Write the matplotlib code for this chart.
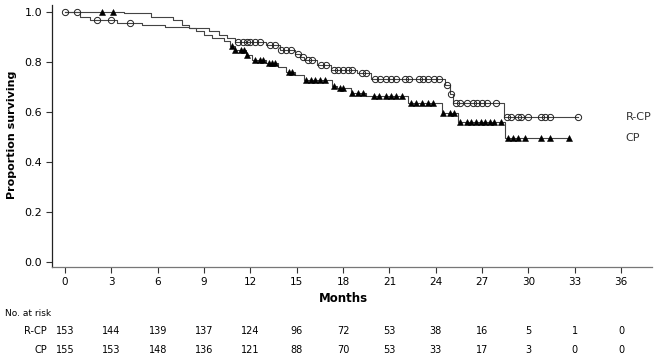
import numpy as np
import matplotlib
matplotlib.use("Agg")
import matplotlib.pyplot as plt
import matplotlib.transforms as mtransforms

# ---------------- data ----------------
rcp_event_t = [1.0, 1.6, 3.4, 5.0, 6.5, 8.0, 9.3, 10.0, 10.5, 11.0, 13.0, 13.9, 14.9, 15.2,
               15.5, 16.3, 17.2, 18.9, 19.8, 24.6, 24.9, 25.1, 28.4]
rcp_event_s = [0.980, 0.967, 0.954, 0.947, 0.940, 0.934, 0.921, 0.908, 0.895, 0.877, 0.866,
               0.846, 0.830, 0.818, 0.806, 0.786, 0.766, 0.754, 0.732, 0.706, 0.672, 0.635, 0.580]
rcp_censor_t = [0.0, 0.8, 2.1, 3.0, 4.2, 11.2, 11.5, 11.8, 12.0, 12.3, 12.6, 13.3, 13.6, 14.0,
                14.3, 14.6, 15.1, 15.4, 15.7, 16.0, 16.6, 16.9, 17.4, 17.7, 18.0, 18.3, 18.6,
                19.2, 19.5, 20.1, 20.4, 20.8, 21.1, 21.4, 22.0, 22.3, 22.9, 23.2, 23.5, 23.9,
                24.2, 24.7, 25.0, 25.3, 25.6, 26.0, 26.4, 26.7, 27.0, 27.3, 27.9, 28.6, 28.9,
                29.3, 29.5, 30.0, 30.8, 31.1, 31.4, 33.2]

cp_event_t = [3.8, 5.6, 7.0, 7.6, 8.0, 8.5, 9.0, 9.5, 10.3, 10.7, 11.0, 11.7, 12.1, 13.0, 13.8,
              14.3, 14.9, 15.5, 17.3, 17.6, 18.5, 19.5, 22.2, 24.4, 25.45, 28.5]
cp_event_s = [0.993, 0.980, 0.967, 0.947, 0.934, 0.921, 0.908, 0.895, 0.882, 0.862, 0.845,
              0.825, 0.806, 0.795, 0.780, 0.760, 0.748, 0.726, 0.705, 0.695, 0.675, 0.662,
              0.637, 0.595, 0.560, 0.496]
cp_censor_t = [2.4, 3.1, 10.8, 11.0, 11.4, 11.6, 11.8, 12.3, 12.6, 12.8, 13.2, 13.4, 13.6,
               14.5, 14.7, 15.6, 15.9, 16.2, 16.5, 16.8, 17.4, 17.8, 18.0, 18.6, 19.0, 19.3,
               20.0, 20.3, 20.8, 21.1, 21.4, 21.8, 22.4, 22.7, 23.1, 23.5, 23.8, 24.5, 24.9,
               25.2, 25.6, 26.0, 26.3, 26.6, 26.9, 27.2, 27.5, 27.8, 28.2, 28.7, 29.0, 29.3,
               29.8, 30.8, 31.4, 32.6]

x_ticks = [0, 3, 6, 9, 12, 15, 18, 21, 24, 27, 30, 33, 36]
y_ticks = [0.0, 0.2, 0.4, 0.6, 0.8, 1.0]
risk_rcp = [153, 144, 139, 137, 124, 96, 72, 53, 38, 16, 5, 1, 0]
risk_cp = [155, 153, 148, 136, 121, 88, 70, 53, 33, 17, 3, 0, 0]
group_names = ["R-CP", "CP"]


def km_curve(ev_t, ev_s, end_t):
    t = np.concatenate([[0.0], ev_t, [end_t]])
    s = np.concatenate([[1.0], ev_s, [ev_s[-1]]])
    return t, s


def surv_at(ev_t, ev_s, times):
    t = np.concatenate([[0.0], ev_t])
    s = np.concatenate([[1.0], ev_s])
    idx = np.searchsorted(t, np.asarray(times), side="right") - 1
    return s[idx]


# ---------------- figure ----------------
fig = plt.figure(figsize=(6.58, 3.58), dpi=100)
ax = fig.add_axes([52 / 658, 1 - 267 / 358, 600 / 658, 262 / 358])

line_col = "#444444"
t1, s1 = km_curve(rcp_event_t, rcp_event_s, max(rcp_censor_t))
t2, s2 = km_curve(cp_event_t, cp_event_s, max(cp_censor_t))
ax.step(t1, s1, where="post", color=line_col, lw=0.8)
ax.step(t2, s2, where="post", color=line_col, lw=0.8)
ax.plot(rcp_censor_t, surv_at(rcp_event_t, rcp_event_s, rcp_censor_t), "o",
        ms=4.5, mfc="none", mec="#222222", mew=0.7, ls="none")
ax.plot(cp_censor_t, surv_at(cp_event_t, cp_event_s, cp_censor_t), "^",
        ms=5.0, mfc="black", mec="black", mew=0.4, ls="none")

# end labels
ax.text(36.3, rcp_event_s[-1], group_names[0], fontsize=8, va="center", ha="left",
        color="#333333")
ax.text(36.3, cp_event_s[-1], group_names[1], fontsize=8, va="center", ha="left",
        color="#333333")

ax.set_xlim(-0.84, 38.0)
ax.set_ylim(-0.018, 1.026)
ax.set_xticks(x_ticks)
ax.set_xticklabels([str(v) for v in x_ticks], fontsize=7.5)
ax.set_yticks(y_ticks)
ax.set_yticklabels([f"{v:.1f}" for v in y_ticks], fontsize=8)
ax.tick_params(axis="both", direction="out", length=4, width=0.8, color="#333333",
               pad=3)
ax.spines["top"].set_visible(False)
ax.spines["right"].set_visible(False)
ax.spines["left"].set_color("#222222")
ax.spines["bottom"].set_color("#777777")
ax.spines["left"].set_linewidth(0.9)
ax.spines["bottom"].set_linewidth(0.9)

fig.text(12 / 658, 1 - 135 / 358, "Proportion surviving", rotation=90, fontsize=8,
         fontweight="bold", ha="center", va="center")

trans = mtransforms.blended_transform_factory(ax.transData, fig.transFigure)
ax.text(18, 1 - 298 / 358, "Months", transform=trans, fontsize=8.5, fontweight="bold",
        ha="center", va="center")
fig.text(5 / 658, 1 - 313 / 358, "No. at risk", fontsize=6.5, ha="left", va="center")

for row_y, name, vals in [(331, group_names[0], risk_rcp), (350, group_names[1], risk_cp)]:
    fig.text(47 / 658, 1 - row_y / 358, name, fontsize=7, ha="right", va="center")
    for xv, v in zip(x_ticks, vals):
        ax.text(xv, 1 - row_y / 358, str(v), transform=trans, fontsize=7,
                ha="center", va="center")

fig.savefig("out.png", dpi=100)
